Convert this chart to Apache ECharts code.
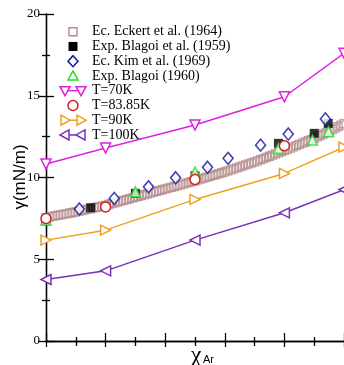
<!DOCTYPE html>
<html><head><meta charset="utf-8">
<script src="https://cdn.jsdelivr.net/npm/echarts@6/dist/echarts.min.js"></script>
<style>html,body{margin:0;padding:0;background:#fff}#c{width:344px;height:365px}</style>
</head><body><div id="c"></div>
<script>
const yTicks = [0, 5, 10, 15, 20];
const legendNames = ['Ec. Eckert et al. (1964)','Exp. Blagoi et al. (1959)','Ec. Kim et al. (1969)','Exp. Blagoi (1960)','T=70K','T=83.85K','T=90K','T=100K'];
const eckertX = [0,0.01,0.02,0.03,0.04,0.05,0.06,0.07,0.08,0.09,0.10,0.11,0.12,0.13,0.14,0.15,0.16,0.17,0.18,0.19,0.20,0.21,0.22,0.23,0.24,0.25,0.26,0.27,0.28,0.29,0.30,0.31,0.32,0.33,0.34,0.35,0.36,0.37,0.38,0.39,0.40,0.41,0.42,0.43,0.44,0.45,0.46,0.47,0.48,0.49,0.50,0.51,0.52,0.53,0.54,0.55,0.56,0.57,0.58,0.59,0.60,0.61,0.62,0.63,0.64,0.65,0.66,0.67,0.68,0.69,0.70,0.71,0.72,0.73,0.74,0.75,0.76,0.77,0.78,0.79,0.80,0.81,0.82,0.83,0.84,0.85,0.86,0.87,0.88,0.89,0.90,0.91,0.92,0.93,0.94,0.95,0.96,0.97,0.98,0.99,1.00];
const eckertY = [7.55,7.58,7.62,7.65,7.69,7.72,7.76,7.79,7.83,7.86,7.90,7.94,7.98,8.02,8.06,8.10,8.14,8.18,8.22,8.26,8.30,8.35,8.40,8.45,8.50,8.55,8.60,8.65,8.70,8.75,8.80,8.85,8.90,8.95,9.00,9.05,9.10,9.15,9.20,9.25,9.30,9.35,9.40,9.45,9.50,9.55,9.60,9.65,9.70,9.75,9.80,9.85,9.91,9.96,10.02,10.07,10.13,10.18,10.24,10.29,10.35,10.41,10.47,10.53,10.59,10.65,10.71,10.77,10.83,10.89,10.95,11.02,11.09,11.16,11.23,11.30,11.37,11.44,11.51,11.58,11.65,11.72,11.80,11.87,11.95,12.02,12.10,12.17,12.25,12.32,12.40,12.48,12.57,12.66,12.75,12.84,12.93,13.02,13.11,13.20,13.30];
const blagoi59X = [0, 0.15, 0.30, 0.50, 0.78, 0.90, 0.947];
const blagoi59Y = [7.35, 8.15, 9.03, 10.1, 12.09, 12.7, 13.31];
const kimX = [0.112, 0.229, 0.344, 0.435, 0.542, 0.611, 0.72, 0.813, 0.9375];
const kimY = [8.07, 8.72, 9.43, 9.98, 10.62, 11.17, 11.98, 12.66, 13.58];
const blagoi60X = [0, 0.30, 0.50, 0.78, 0.894, 0.948];
const blagoi60Y = [7.4, 9.12, 10.33, 11.78, 12.29, 12.8];
const simX = [0, 0.2, 0.5, 0.8, 1.0];
const t70 = [10.82, 11.8, 13.21, 14.94, 17.6];
const t8385X = [0, 0.2, 0.5, 0.8];
const t8385 = [7.49, 8.2, 9.88, 11.94];
const t90 = [6.17, 6.78, 8.66, 10.25, 11.86];
const t100 = [3.76, 4.29, 6.17, 7.84, 9.26];

const zip = (xs, ys) => xs.map((x, i) => [x, ys[i]]);
const serif = 'Liberation Serif';
const triDown = 'path://M0,0 L10,0 L5,9 Z';
const triRight = 'path://M0,0 L9,5 L0,10 Z';
const triLeft = 'path://M9,0 L0,5 L9,10 Z';
const triUp = 'path://M5,0 L10,9 L0,9 Z';
const C = {eck: '#b48a8a', b59: '#000', kim: '#1414a0', b60: '#22dd22', t70: '#e020e0', t83: '#d42020', t90: '#f0a020', t100: '#7b2fb5'};

const chart = echarts.init(document.getElementById('c'), null, {renderer: 'canvas'});
function hollowLine(name, data, sym, color, showLine) {
  return {
    name, type: 'line', data, symbol: sym, symbolSize: 10, showSymbol: true,
    lineStyle: {color, width: showLine ? 1.5 : 0, opacity: showLine ? 1 : 0},
    itemStyle: {color: '#fff', borderColor: color, borderWidth: 1.5},
    emphasis: {disabled: true}, animation: false, z: 5
  };
}

// legend (drawn as graphic elements)
const LX = 73, LT = 31.7, LS = 14.75, TX = 92;
const legendGraphics = [];
const hollow = c => ({fill: '#fff', stroke: c, lineWidth: 1.5});
function tri(cx, cy, dir) {
  const s = 5;
  if (dir === 'down') return [[cx - s, cy - 4], [cx + s, cy - 4], [cx, cy + 5]];
  if (dir === 'up') return [[cx, cy - 5], [cx + s, cy + 4], [cx - s, cy + 4]];
  if (dir === 'right') return [[cx - 4, cy - s], [cx + 5, cy], [cx - 4, cy + s]];
  return [[cx + 4, cy - s], [cx - 5, cy], [cx + 4, cy + s]];
}
legendNames.forEach((n, i) => {
  const y = LT + i * LS;
  legendGraphics.push({type: 'text', x: TX, y: y, z: 10,
    style: {text: n, fontFamily: serif, fontSize: 14, fill: '#000', textVerticalAlign: 'middle'}});
});
let y;
y = LT; legendGraphics.push({type: 'rect', z: 10, shape: {x: LX - 4, y: y - 4, width: 8, height: 8}, style: {fill: 'none', stroke: C.eck, lineWidth: 1.4}});
y = LT + LS; legendGraphics.push({type: 'rect', z: 10, shape: {x: LX - 4.5, y: y - 4.5, width: 9, height: 9}, style: {fill: '#000'}});
y = LT + 2 * LS; legendGraphics.push({type: 'polygon', z: 10, shape: {points: [[LX, y - 5.5], [LX + 5, y], [LX, y + 5.5], [LX - 5, y]]}, style: hollow(C.kim)});
y = LT + 3 * LS; legendGraphics.push({type: 'polygon', z: 10, shape: {points: tri(LX, y, 'up')}, style: hollow(C.b60)});
[[4, C.t70, 'down'], [6, C.t90, 'right'], [7, C.t100, 'left']].forEach(([i, c, d]) => {
  const yy = LT + i * LS;
  legendGraphics.push({type: 'line', z: 10, shape: {x1: 65, y1: yy, x2: 81, y2: yy}, style: {stroke: c, lineWidth: 1.5}});
  legendGraphics.push({type: 'polygon', z: 11, shape: {points: tri(65, yy, d)}, style: hollow(c)});
  legendGraphics.push({type: 'polygon', z: 11, shape: {points: tri(81, yy, d)}, style: hollow(c)});
});
y = LT + 5 * LS; legendGraphics.push({type: 'circle', z: 10, shape: {cx: LX, cy: y, r: 5}, style: hollow(C.t83)});

const axisCommon = {color: '#000', width: 1.3};
const option = {
  animation: false,
  grid: {left: 46, top: 14, width: 304, height: 327},
  xAxis: [{
    type: 'value', min: 0, max: 1, interval: 0.2,
    axisLine: {lineStyle: axisCommon},
    axisTick: {inside: true, length: 8, lineStyle: axisCommon},
    minorTick: {show: true, splitNumber: 2, length: 4, lineStyle: axisCommon},
    axisLabel: {show: false}, splitLine: {show: false}
  }, {
    type: 'value', min: 0, max: 1, interval: 0.2, position: 'top',
    axisLine: {lineStyle: axisCommon},
    axisTick: {inside: true, length: 6, lineStyle: axisCommon},
    minorTick: {show: true, splitNumber: 2, length: 5, lineStyle: axisCommon},
    axisLabel: {show: false}, splitLine: {show: false}
  }],
  yAxis: [{
    type: 'value', min: yTicks[0], max: yTicks[yTicks.length - 1], interval: 5,
    axisLine: {show: true, lineStyle: axisCommon},
    axisTick: {inside: true, length: 8, lineStyle: axisCommon},
    minorTick: {show: true, splitNumber: 2, length: 4, lineStyle: axisCommon},
    axisLabel: {color: '#000', fontFamily: serif, fontSize: 13, margin: 6},
    splitLine: {show: false}
  }, {
    type: 'value', min: 0, max: 20, interval: 5, position: 'right',
    axisLine: {show: true, lineStyle: axisCommon},
    axisTick: {inside: true, length: 8, lineStyle: axisCommon},
    minorTick: {show: true, splitNumber: 2, length: 4, lineStyle: axisCommon},
    axisLabel: {show: false}, splitLine: {show: false}
  }],
  series: [
    {name: legendNames[0], type: 'scatter', data: zip(eckertX, eckertY), symbol: 'rect', symbolSize: 8,
     itemStyle: {color: 'rgba(255,255,255,0)', borderColor: C.eck, borderWidth: 1.3}, z: 2, silent: true},
    {name: legendNames[1], type: 'scatter', data: zip(blagoi59X, blagoi59Y), symbol: 'rect', symbolSize: 9,
     itemStyle: {color: C.b59}, z: 3, silent: true},
    {name: legendNames[2], type: 'scatter', data: zip(kimX, kimY), symbol: 'diamond', symbolSize: [10, 12],
     itemStyle: {color: '#fff', borderColor: C.kim, borderWidth: 1.6}, z: 3, silent: true},
    {name: legendNames[3], type: 'scatter', data: zip(blagoi60X, blagoi60Y), symbol: triUp, symbolSize: 10,
     itemStyle: {color: '#fff', borderColor: C.b60, borderWidth: 1.6}, z: 4, silent: true},
    hollowLine(legendNames[4], zip(simX, t70), triDown, C.t70, true),
    hollowLine(legendNames[5], zip(t8385X, t8385), 'circle', C.t83, false),
    hollowLine(legendNames[6], zip(simX, t90), triRight, C.t90, true),
    hollowLine(legendNames[7], zip(simX, t100), triLeft, C.t100, true)
  ],
  graphic: legendGraphics.concat([
    {type: 'text', x: 20, y: 177, rotation: Math.PI / 2,
     style: {text: 'γ(mN/m)', fontFamily: 'Liberation Sans', fontSize: 17, fill: '#000', textAlign: 'center', textVerticalAlign: 'middle'}},
    {type: 'text', x: 196, y: 344,
     style: {text: 'χ', fontFamily: serif, fontSize: 24, fill: '#000', textAlign: 'center', textVerticalAlign: 'top'}},
    {type: 'text', x: 203, y: 354,
     style: {text: 'Ar', fontFamily: 'Liberation Sans', fontSize: 11, fill: '#000', textAlign: 'left', textVerticalAlign: 'top'}}
  ])
};
chart.setOption(option);
</script></body></html>
